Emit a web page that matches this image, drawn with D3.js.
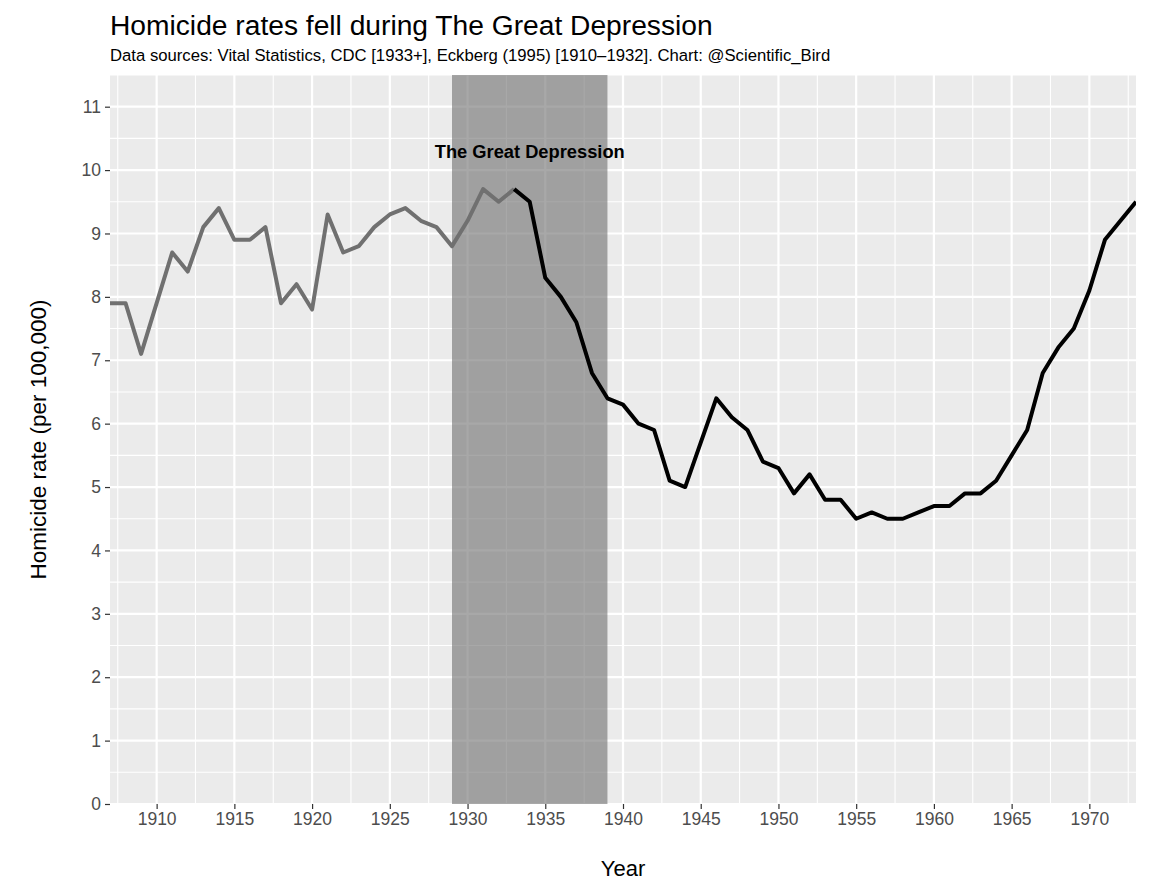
<!DOCTYPE html>
<html><head><meta charset="utf-8">
<script src="https://cdn.jsdelivr.net/npm/d3@7"></script>
<style>body{margin:0;background:#fff}svg{display:block;font-family:"Liberation Sans",Arial,sans-serif}</style>
</head><body>
<svg id="c" width="1162" height="889"></svg>
<script>
// Data
const yearsEarly = [1907,1908,1909,1910,1911,1912,1913,1914,1915,1916,1917,1918,1919,1920,1921,1922,1923,1924,1925,1926,1927,1928,1929,1930,1931,1932,1933];
const ratesEarly = [7.9,7.9,7.1,7.9,8.7,8.4,9.1,9.4,8.9,8.9,9.1,7.9,8.2,7.8,9.3,8.7,8.8,9.1,9.3,9.4,9.2,9.1,8.8,9.2,9.7,9.5,9.7];
const yearsLate = [1933,1934,1935,1936,1937,1938,1939,1940,1941,1942,1943,1944,1945,1946,1947,1948,1949,1950,1951,1952,1953,1954,1955,1956,1957,1958,1959,1960,1961,1962,1963,1964,1965,1966,1967,1968,1969,1970,1971,1972,1973];
const ratesLate = [9.7,9.5,8.3,8.0,7.6,6.8,6.4,6.3,6.0,5.9,5.1,5.0,5.7,6.4,6.1,5.9,5.4,5.3,4.9,5.2,4.8,4.8,4.5,4.6,4.5,4.5,4.6,4.7,4.7,4.9,4.9,5.1,5.5,5.9,6.8,7.2,7.5,8.1,8.9,9.2,9.5];
const depression = [1929, 1939];
const annotation = {year: 1934, rate: 10.3, label: "The Great Depression"};
const xTicks = [1910,1915,1920,1925,1930,1935,1940,1945,1950,1955,1960,1965,1970];
const yTicks = [0,1,2,3,4,5,6,7,8,9,10,11];
const xDomain = [1907, 1973];
const yDomain = [0, 11.5];
const titleText = "Homicide rates fell during The Great Depression";
const subtitleText = "Data sources: Vital Statistics, CDC [1933+], Eckberg (1995) [1910\u20131932]. Chart: @Scientific_Bird";

const L = 110, T = 75, R = 1136, B = 804;
const svg = d3.select("#c");
const x = d3.scaleLinear().domain(xDomain).range([L, R]);
const y = d3.scaleLinear().domain(yDomain).range([B, T]);

// panel
svg.append("rect").attr("x", L).attr("y", T).attr("width", R - L).attr("height", B - T).attr("fill", "#ebebeb");
const g = svg.append("g");
const xMinor = d3.range(xDomain[0] + 0.5, xDomain[1] + 0.01, 5);
const yMinor = d3.range(0.5, yDomain[1] + 0.01, 1);
g.selectAll(".xm").data(xMinor).join("line").attr("x1", d => x(d)).attr("x2", d => x(d)).attr("y1", T).attr("y2", B).attr("stroke", "#fff").attr("stroke-width", 1.1);
g.selectAll(".ym").data(yMinor).join("line").attr("y1", d => y(d)).attr("y2", d => y(d)).attr("x1", L).attr("x2", R).attr("stroke", "#fff").attr("stroke-width", 1.1);
g.selectAll(".xM").data(xTicks).join("line").attr("x1", d => x(d)).attr("x2", d => x(d)).attr("y1", T).attr("y2", B).attr("stroke", "#fff").attr("stroke-width", 2.2);
g.selectAll(".yM").data(yTicks).join("line").attr("y1", d => y(d)).attr("y2", d => y(d)).attr("x1", L).attr("x2", R).attr("stroke", "#fff").attr("stroke-width", 2.2);

// shaded period
svg.append("rect").attr("x", x(depression[0])).attr("width", x(depression[1]) - x(depression[0]))
  .attr("y", T).attr("height", B - T).attr("fill", "rgb(110,110,110)").attr("fill-opacity", 0.6);

// clip
svg.append("clipPath").attr("id", "clip").append("rect").attr("x", L).attr("y", T).attr("width", R - L).attr("height", B - T);
const line = d3.line().x(d => x(d[0])).y(d => y(d[1]));
svg.append("path").datum(yearsEarly.map((yr, i) => [yr, ratesEarly[i]])).attr("d", line)
  .attr("fill", "none").attr("stroke", "#707070").attr("stroke-width", 4).attr("stroke-linejoin", "round").attr("clip-path", "url(#clip)");
svg.append("path").datum(yearsLate.map((yr, i) => [yr, ratesLate[i]])).attr("d", line)
  .attr("fill", "none").attr("stroke", "#000").attr("stroke-width", 4).attr("stroke-linejoin", "round").attr("clip-path", "url(#clip)");

// annotation
svg.append("text").attr("x", x(annotation.year)).attr("y", y(annotation.rate)).attr("dy", "0.36em")
  .attr("text-anchor", "middle").attr("font-weight", "bold").attr("font-size", 18.3).attr("fill", "#000").text(annotation.label);

// axes
const xAxis = svg.append("g").attr("transform", `translate(0,${B})`)
  .call(d3.axisBottom(x).tickValues(xTicks).tickFormat(d3.format("d")).tickSize(5).tickPadding(4));
const yAxis = svg.append("g").attr("transform", `translate(${L},0)`)
  .call(d3.axisLeft(y).tickValues(yTicks).tickSize(5).tickPadding(4));
[xAxis, yAxis].forEach(a => {
  a.select(".domain").remove();
  a.selectAll(".tick line").attr("stroke", "#333").attr("stroke-width", 1.2);
  a.selectAll(".tick text").attr("fill", "#4d4d4d").attr("font-size", 17.5).attr("font-family", '"Liberation Sans",Arial,sans-serif');
});

// titles
svg.append("text").attr("x", L).attr("y", 35).attr("font-size", 28.2).attr("fill", "#000").text(titleText);
svg.append("text").attr("x", L).attr("y", 61).attr("font-size", 16.7).attr("fill", "#000").text(subtitleText);
svg.append("text").attr("x", (L + R) / 2).attr("y", 876).attr("text-anchor", "middle").attr("font-size", 22).attr("fill", "#000").text("Year");
svg.append("text").attr("transform", `translate(46,${(T + B) / 2}) rotate(-90)`).attr("text-anchor", "middle").attr("font-size", 22.5).attr("fill", "#000").text("Homicide rate (per 100,000)");
</script>
</body></html>
